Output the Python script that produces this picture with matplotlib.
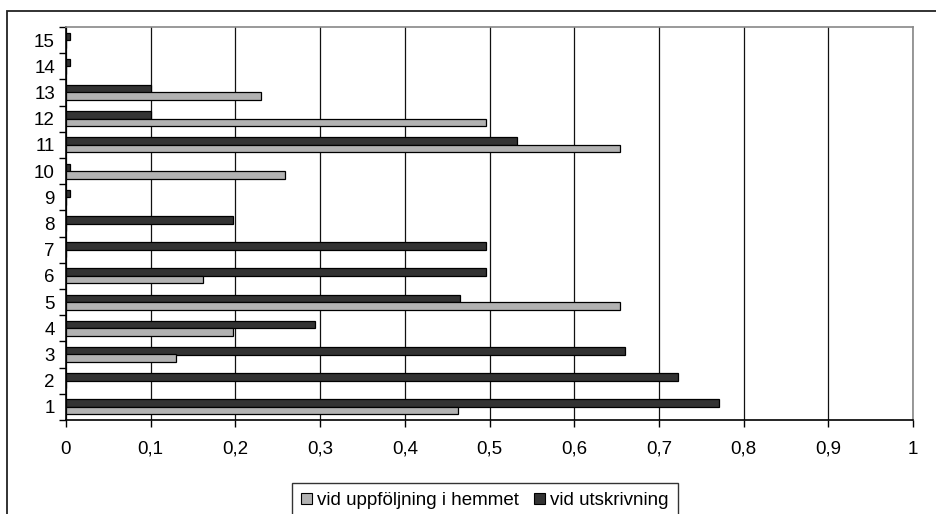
import numpy as np
import matplotlib.pyplot as plt
from matplotlib.patches import Rectangle, Patch

plt.rcParams['font.family'] = ['Liberation Sans', 'DejaVu Sans']

kategorier = [str(i) for i in range(1, 16)]
hemmet = [0.463, 0, 0.13, 0.197, 0.654, 0.162, 0, 0, 0, 0.259, 0.654, 0.496, 0.23, 0, 0]
utskrivning = [0.771, 0.723, 0.66, 0.294, 0.465, 0.496, 0.496, 0.197, 0.005, 0.005, 0.532, 0.1, 0.1, 0.005, 0.005]
xticks = np.arange(0, 1.01, 0.1)
xlabels = ['0', '0,1', '0,2', '0,3', '0,4', '0,5', '0,6', '0,7', '0,8', '0,9', '1']

W, H = 937, 514
fig = plt.figure(figsize=(W / 100, H / 100), dpi=100)
ax = fig.add_axes([66 / W, 1 - 420 / H, (913 - 66) / W, (420 - 27) / H])

# ram runt hela diagrammet
fig.patches.append(Rectangle((7 / W, -0.1), 1.1, 1 - 11 / H + 0.1, transform=fig.transFigure,
                             fill=False, edgecolor='#222222', linewidth=1.3, zorder=0))

y = np.arange(len(kategorier))
h = 0.29
ax.barh(y + h / 2, utskrivning, height=h, color='#333333', edgecolor='black', linewidth=0.9,
        zorder=3, label='vid utskrivning')
ax.barh(y - h / 2, hemmet, height=h, color='#b2b2b2', edgecolor='black', linewidth=0.9,
        zorder=3, label='vid uppföljning i hemmet')

ax.set_xlim(0, 1)
ax.set_ylim(-0.5, len(kategorier) - 0.5)
ax.set_xticks(xticks)
ax.set_xticklabels(xlabels, fontsize=13.5)
ax.set_yticks(y)
ax.set_yticklabels(kategorier, fontsize=13.5)
ax.set_yticks(np.arange(-0.5, len(kategorier), 1), minor=True)
ax.tick_params(axis='y', which='major', length=0, pad=8)
ax.tick_params(axis='y', which='minor', length=5, width=1, direction='out')
ax.tick_params(axis='x', length=5, width=1, direction='out', pad=10)
ax.xaxis.grid(True, color='#111111', linewidth=0.9)
ax.set_axisbelow(True)

for s in ['top', 'right']:
    ax.spines[s].set_color('#888888')
    ax.spines[s].set_linewidth(1.2)
for s in ['left', 'bottom']:
    ax.spines[s].set_color('black')
    ax.spines[s].set_linewidth(1.2)

handles = [Patch(facecolor='#b2b2b2', edgecolor='black', linewidth=0.8),
           Patch(facecolor='#333333', edgecolor='black', linewidth=0.8)]
leg = fig.legend(handles, ['vid uppföljning i hemmet', 'vid utskrivning'],
                 loc='upper left', bbox_to_anchor=(292 / W, 1 - 483 / H), ncol=2,
                 fontsize=13.5, frameon=True, fancybox=False, handlelength=0.55, handleheight=0.55,
                 handletextpad=0.3, columnspacing=0.8, borderpad=0.5, borderaxespad=0)
leg.get_frame().set_edgecolor('black')
leg.get_frame().set_linewidth(1)

fig.savefig('out.png', dpi=100)
